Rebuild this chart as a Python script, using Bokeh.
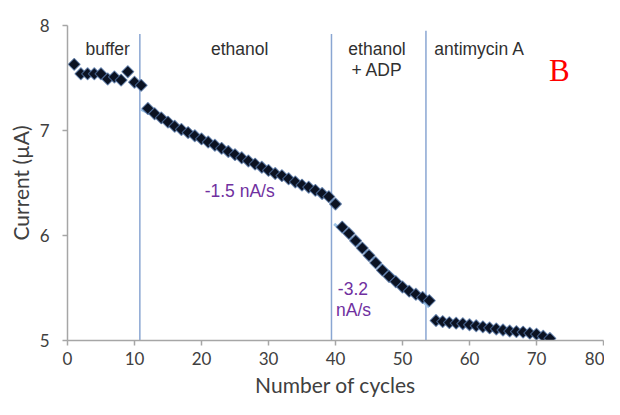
import numpy as np
from bokeh.plotting import figure
from bokeh.models import Range1d, FixedTicker
from bokeh.core.properties import value
from bokeh.embed import file_html
from bokeh.resources import INLINE

# ---- data ----
buffer_vals = [7.63, 7.54, 7.54, 7.54, 7.54, 7.49, 7.51, 7.48, 7.56, 7.46, 7.43]
ethanol_vals = [7.21, 7.16, 7.12, 7.08, 7.04, 7.01, 6.98, 6.95, 6.92, 6.89,
                6.86, 6.83, 6.80, 6.77, 6.74, 6.71, 6.68, 6.65, 6.62, 6.59,
                6.57, 6.54, 6.51, 6.48, 6.46, 6.43, 6.40, 6.37, 6.30]
adp_vals = [6.08, 6.02, 5.95, 5.88, 5.81, 5.74, 5.67, 5.61, 5.56, 5.51,
            5.47, 5.44, 5.41, 5.38]
antimycin_vals = [5.19, 5.18, 5.17, 5.165, 5.16, 5.15, 5.14, 5.13, 5.12, 5.11,
                  5.10, 5.09, 5.085, 5.08, 5.07, 5.06, 5.04, 5.02]

current = buffer_vals + ethanol_vals + adp_vals + antimycin_vals
cycles = list(range(1, len(current) + 1))

boundaries = [10.8, 39.4, 53.5]
boundary_tops = [7.92, 7.92, 7.95]

phase_labels = ["buffer", "ethanol", "ethanol", "+ ADP", "antimycin A"]
phase_x = [6.0, 25.7, 46.2, 46.2, 61.5]
phase_y = [7.78, 7.78, 7.78, 7.58, 7.78]

rate_labels = ["-1.5 nA/s", "-3.2", "nA/s"]
rate_x = [25.7, 42.6, 42.7]
rate_y = [6.42, 5.50, 5.29]

x_ticks = [0, 10, 20, 30, 40, 50, 60, 70, 80]
y_ticks = [5, 6, 7, 8]

# trendline segments (fits of the data)
eth_x = np.array(cycles[11:40])
eth_y = np.array(ethanol_vals)
adp_x = np.array(cycles[40:54])
adp_y = np.array(adp_vals)
k1, b1 = np.polyfit(eth_x, eth_y, 1)
k2, b2 = np.polyfit(adp_x, adp_y, 1)
fit1_x = [11.0, 40.0]
fit2_x = [39.8, 54.0]

# ---- figure ----
p = figure(width=604, height=399, output_backend="svg", toolbar_location=None,
           x_range=Range1d(0, 80), y_range=Range1d(5, 8),
           min_border_left=67, min_border_right=1, min_border_top=25,
           min_border_bottom=40)
p.outline_line_color = None
p.xgrid.grid_line_color = None
p.ygrid.grid_line_color = None
p.background_fill_color = "white"

for ax in (p.xaxis[0], p.yaxis[0]):
    ax.axis_line_color = "#a6a6a6"
    ax.axis_line_width = 1.5
    ax.major_tick_line_color = "#a6a6a6"
    ax.major_tick_line_width = 1.5
    ax.major_tick_out = 5
    ax.major_tick_in = 0
    ax.minor_tick_line_color = None
    ax.major_label_text_font = "Lato"
    ax.major_label_text_font_size = "17px"
    ax.major_label_text_color = "#404040"
    ax.axis_label_text_font = "Lato"
    ax.axis_label_text_font_size = "21px"
    ax.axis_label_text_font_style = "normal"
    ax.axis_label_text_color = "#404040"

p.xaxis.ticker = FixedTicker(ticks=x_ticks)
p.yaxis.ticker = FixedTicker(ticks=y_ticks)
p.xaxis.axis_label = "Number of cycles"
p.yaxis.axis_label = "Current (µA)"
p.xaxis.major_label_standoff = 6
p.yaxis.major_label_standoff = 13
p.xaxis.axis_label_standoff = 4
p.yaxis.axis_label_standoff = 4

# phase boundaries
p.segment(x0=boundaries, y0=[5] * len(boundaries), x1=boundaries, y1=boundary_tops,
          line_color="#8aa6d2", line_width=1.5)

# trendlines
p.line(fit1_x, [k1 * x + b1 for x in fit1_x], line_color="#9dc3e6", line_width=3)
p.line(fit2_x, [k2 * x + b2 for x in fit2_x], line_color="#9dc3e6", line_width=3)

# data points
p.scatter(cycles, current, marker="square", angle=np.pi / 4, size=8.5,
          fill_color="#0b1222", line_color="#5577aa", line_width=1.2, line_alpha=0.7)

# labels
p.text(phase_x, phase_y, text=phase_labels, text_font=value("Liberation Sans"),
       text_font_size="17.5px", text_color="#303030", text_align="center",
       text_baseline="middle")
p.text(rate_x, rate_y, text=rate_labels, text_font=value("Liberation Sans"),
       text_font_size="17.5px", text_color="#7030a0", text_align="center",
       text_baseline="middle")
p.text([73.4], [7.57], text=["B"], text_font=value("Liberation Serif"),
       text_font_size="31px", text_color="#ff0000", text_align="center",
       text_baseline="middle")

open("out.html", "w").write(file_html(p, INLINE))
